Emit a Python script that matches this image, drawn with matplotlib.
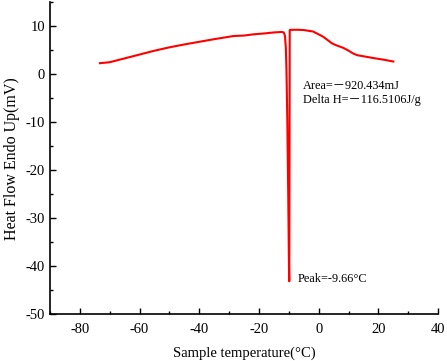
import matplotlib
matplotlib.use("Agg")
import matplotlib.pyplot as plt
from matplotlib.ticker import MultipleLocator

# DSC curve
temperature = [-73.3, -70, -65, -60, -55, -50, -45, -40, -35, -30, -28.6, -25, -21.9,
               -18, -15, -12.4, -11.7, -11.3, -11.0, -10.8, -10.5, -10.2, -9.95, -9.85,
               -9.8, -9.75, -9.7, -9.0, -7, -5, -3, -1.9, 0, 1.5, 2.6, 4.5, 6.0, 8.2,
               10, 11.6, 13, 14.9, 18, 22, 25]
heat_flow = [2.3, 2.5, 3.3, 4.1, 4.9, 5.6, 6.2, 6.75, 7.3, 7.8, 7.95, 8.05, 8.3,
             8.5, 8.7, 8.8, 8.7, 8.0, 5.5, 1.0, -10, -25, -40, -43.1,
             -30, -10, 9.2, 9.25, 9.25, 9.2, 9.0, 8.9, 8.3, 7.8, 7.3, 6.4, 6.0, 5.5,
             4.9, 4.3, 3.95, 3.75, 3.4, 3.0, 2.65]

plt.rcParams["font.family"] = ["Liberation Serif", "Noto Sans CJK SC", "DejaVu Serif"]
plt.rcParams["axes.unicode_minus"] = False

fig = plt.figure(figsize=(4.47, 3.61), dpi=100)
ax = fig.add_axes([0.112, 0.129, 0.868, 0.865])
ax.plot(temperature, heat_flow, color="#ff0000", lw=1.5)

ax.set_xlim(-90, 40)
ax.set_ylim(-50, 15)
ax.xaxis.set_major_locator(MultipleLocator(20))
ax.xaxis.set_minor_locator(MultipleLocator(10))
ax.yaxis.set_major_locator(MultipleLocator(10))
ax.yaxis.set_minor_locator(MultipleLocator(5))
ax.tick_params(which="both", direction="in", labelsize=10.5, width=1)
ax.tick_params(which="major", length=4)
ax.tick_params(which="minor", length=2.5)
ax.tick_params(axis="x", which="major", pad=6)
for side in ("top", "right"):
    ax.spines[side].set_visible(False)
for side in ("left", "bottom"):
    ax.spines[side].set_linewidth(1.2)
ax.set_yticks([-50, -40, -30, -20, -10, 0, 10])

ax.set_xlabel("Sample temperature(°C)", fontsize=10.5, labelpad=8)
ax.set_ylabel("Heat Flow Endo Up(mV)", fontsize=11.5)

ax.text(-5.3, -1.1, "Area=－920.434mJ", fontsize=8.8, va="top")
ax.text(-5.3, -4.1, "Delta H=－116.5106J/g", fontsize=8.8, va="top")
ax.text(-6.9, -41.3, "Peak=-9.66°C", fontsize=8.8, va="top")

fig.savefig("out.png", dpi=100)
